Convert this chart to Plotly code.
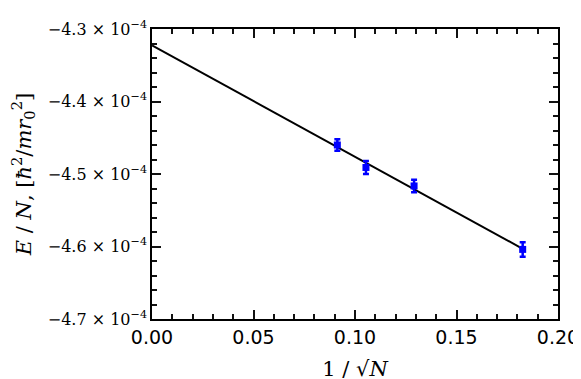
import numpy as np
import plotly.graph_objects as go

# data: inverse sqrt of particle number vs energy per particle
inv_sqrt_n = [0.0913, 0.1054, 0.1291, 0.1826]
energy = [-4.460e-4, -4.491e-4, -4.5165e-4, -4.604e-4]
energy_err = [0.008e-4, 0.009e-4, 0.0085e-4, 0.010e-4]

x_ticks = [0.0, 0.05, 0.10, 0.15, 0.20]
x_ticktext = ["0.00", "0.05", "0.10", "0.15", "0.20"]
y_ticks = [-4.7e-4, -4.6e-4, -4.5e-4, -4.4e-4, -4.3e-4]
y_ticktext = ["\u22124.7 \u00d7 10<sup>\u22124</sup>", "\u22124.6 \u00d7 10<sup>\u22124</sup>",
              "\u22124.5 \u00d7 10<sup>\u22124</sup>", "\u22124.4 \u00d7 10<sup>\u22124</sup>",
              "\u22124.3 \u00d7 10<sup>\u22124</sup>"]

X_RANGE = [0, 0.2]
Y_RANGE = [-4.7e-4, -4.3e-4]

# linear extrapolation to N -> infinity
slope, intercept = np.polyfit(inv_sqrt_n, energy, 1)
fit_x = np.array([0.0, max(inv_sqrt_n)])
fit_y = intercept + slope * fit_x

SERIF = "DejaVu Serif, Liberation Serif, serif"
TICK_C = "#111111"

fig = go.Figure()

fig.add_trace(go.Scatter(
    x=fit_x, y=fit_y, mode="lines",
    line=dict(color="black", width=2),
    showlegend=False,
))

fig.add_trace(go.Scatter(
    x=inv_sqrt_n, y=energy, mode="markers",
    marker=dict(symbol="square", size=7, color="blue"),
    error_y=dict(type="data", array=energy_err, color="blue", thickness=2.5, width=3),
    showlegend=False,
))

fig.update_xaxes(
    range=X_RANGE, tickmode="array", tickvals=x_ticks, ticktext=x_ticktext,
    ticks="inside", ticklen=9, tickwidth=2, tickcolor=TICK_C,
    showline=True, linecolor="black", linewidth=1.5, mirror="allticks",
    showgrid=False, zeroline=False,
    minor=dict(dtick=0.01, ticks="inside", ticklen=5, tickcolor=TICK_C, tickwidth=1.5),
    tickfont=dict(family="DejaVu Sans", size=19, color="black"),
    title_text="1 / \u221a<i>N</i>",
    title_font=dict(family=SERIF, size=21, color="black"),
)
fig.update_yaxes(
    range=Y_RANGE, tickmode="array", tickvals=y_ticks, ticktext=y_ticktext,
    ticks="inside", ticklen=9, tickwidth=2, tickcolor=TICK_C,
    showline=True, linecolor="black", linewidth=1.5, mirror="allticks",
    showgrid=False, zeroline=False,
    minor=dict(dtick=0.02e-4, ticks="inside", ticklen=5, tickcolor=TICK_C, tickwidth=1.5),
    tickfont=dict(family=SERIF, size=16, color="black"),
    title_text="<i>E</i> / <i>N</i>, [<i>\u0127</i><sup>2</sup>/<i>mr</i><sub>0</sub><sup>2</sup>]",
    title_font=dict(family=SERIF, size=21, color="black"),
)

fig.update_layout(
    width=581, height=379,
    margin=dict(l=136, r=24, t=10, b=61),
    paper_bgcolor="white", plot_bgcolor="white",
)

fig.write_html("out.html")
